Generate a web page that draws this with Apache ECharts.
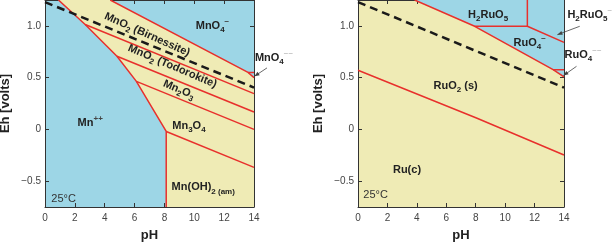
<!DOCTYPE html>
<html>
<head>
<meta charset="utf-8">
<script src="https://cdn.jsdelivr.net/npm/echarts@6/dist/echarts.min.js"></script>
<style>
  html, body { margin: 0; padding: 0; background: #fff; }
  #chart { width: 614px; height: 242px; }
</style>
</head>
<body>
<div id="chart"></div>
<script>
// axis ticks
const phTicks = [0, 2, 4, 6, 8, 10, 12, 14];
const ehTicks = [-0.5, 0, 0.5, 1.0];

// upper stability limit of water (dashed)
const waterLimit = [[0, 1.23], [14, 0.404]];

// Mn diagram: yellow = solid phases, the rest is dissolved (blue)
const mnSolidField = [[0.9, 1.25], [2.69, 1.013], [4.82, 0.706], [6.12, 0.464], [8.12, -0.02],
  [8.12, -0.75], [14, -0.75], [14, 0.50], [13.6, 0.55], [4.37, 1.25]];
const mnBoundaries = [
  [[0.9, 1.25], [2.69, 1.013], [4.82, 0.706], [6.12, 0.464], [8.12, -0.02], [8.12, -0.75]],
  [[4.37, 1.25], [13.6, 0.55], [14, 0.50]],
  [[13.6, 0.55], [14, 0.55]],
  [[2.69, 1.013], [14, 0.345]],
  [[4.82, 0.706], [14, 0.168]],
  [[6.12, 0.464], [14, 0.0]],
  [[8.12, -0.02], [14, -0.367]]
];

// Ru diagram: blue = dissolved species, the rest is solid (yellow)
const ruDissolvedField = [[3.85, 1.25], [7.93, 0.996], [13.26, 0.577], [14, 0.507], [14, 1.25]];
const ruBoundaries = [
  [[3.85, 1.25], [7.93, 0.996], [13.26, 0.577], [14, 0.507]],
  [[7.93, 0.996], [11.51, 0.996]],
  [[11.51, 1.25], [11.51, 0.996], [14, 0.84]],
  [[13.26, 0.577], [14, 0.577]],
  [[0, 0.571], [8.05, 0.11], [14, -0.248]]
];

// field names
const mnLabels = [
  { at: [11.22, 0.996], text: '{b|MnO}{s|4}{p|−}' },
  { at: [6.84, 0.916], text: '{b|MnO}{s|2}{b| (Birnessite)}', angle: -24 },
  { at: [8.53, 0.609], text: '{b|MnO}{s|2}{b| (Todorokite)}', angle: -23 },
  { at: [8.97, 0.384], text: '{b|Mn}{s|2}{b|O}{s|3}', angle: -23 },
  { at: [9.64, 0.03], text: '{b|Mn}{s|3}{b|O}{s|4}' },
  { at: [3.03, 0.065], text: '{b|Mn}{p|++}' },
  { at: [10.6, -0.56], text: '{b|Mn(OH)}{s|2}{sm| (am)}' },
  { at: [1.25, -0.67], text: '{t|25°C}' },
  { at: [15.34, 0.693], text: '{b|MnO}{s|4}{q|−−}' }
];
const ruLabels = [
  { at: [8.84, 1.109], text: '{b|H}{s|2}{b|RuO}{s|5}' },
  { at: [15.75, 1.109], text: '{b|H}{s|2}{b|RuO}{s|5}{q|−}' },
  { at: [11.67, 0.835], text: '{b|RuO}{s|4}{p|−}' },
  { at: [15.3, 0.722], text: '{b|RuO}{s|4}{q|−−}' },
  { at: [6.64, 0.42], text: '{b|RuO}{s|2}{b| (s)}' },
  { at: [3.33, -0.39], text: '{b|Ru(c)}' },
  { at: [1.2, -0.63], text: '{t|25°C}' }
];
const mnArrows = [[[14.87, 0.594], [14.03, 0.513]]];
const ruArrows = [[[15.07, 0.996], [13.55, 0.915]], [[14.85, 0.609], [13.96, 0.52]]];

const FONT = 'Liberation Sans, Arial, Helvetica, sans-serif';
const BLUE = '#9dd6e6';
const YELLOW = '#efebb5';
const RED = '#e8302c';

const rich = {
  b: { fontSize: 11, fontWeight: 'bold', fontFamily: FONT, lineHeight: 16, fill: '#222' },
  s: { fontSize: 8, fontWeight: 'bold', fontFamily: FONT, lineHeight: 8, verticalAlign: 'bottom', fill: '#222' },
  sm: { fontSize: 8, fontWeight: 'bold', fontFamily: FONT, lineHeight: 8, verticalAlign: 'bottom', fill: '#222' },
  p: { fontSize: 8, fontWeight: 'bold', fontFamily: FONT, lineHeight: 8, verticalAlign: 'top', fill: '#444' },
  q: { fontSize: 8, fontFamily: FONT, lineHeight: 8, verticalAlign: 'top', fill: '#aaa' },
  t: { fontSize: 11, fontFamily: FONT, lineHeight: 16, fill: '#333' }
};

function xAxes(gi) {
  const base = {
    type: 'value', gridIndex: gi, min: 0, max: 14, interval: 2,
    axisLine: { show: true, onZero: false, lineStyle: { color: '#333', width: 1 } },
    axisTick: { show: true, inside: true, length: 4, lineStyle: { color: '#333' } },
    splitLine: { show: false }
  };
  return [
    Object.assign({}, base, {
      position: 'bottom', name: 'pH', nameLocation: 'middle', nameGap: 22,
      nameTextStyle: { fontFamily: FONT, fontSize: 13, fontWeight: 'bold', color: '#222' },
      axisLabel: { fontFamily: FONT, fontSize: 10, color: '#444', margin: 6,
        customValues: phTicks, formatter: v => String(v) }
    }),
    Object.assign({}, base, { position: 'top', axisLabel: { show: false } })
  ];
}

function yAxes(gi) {
  const base = {
    type: 'value', gridIndex: gi, min: -0.75, max: 1.25,
    axisLine: { show: true, onZero: false, lineStyle: { color: '#333', width: 1 } },
    axisTick: { show: true, inside: true, length: 4, customValues: ehTicks, lineStyle: { color: '#333' } },
    splitLine: { show: false }
  };
  return [
    Object.assign({}, base, {
      position: 'left', name: 'Eh [volts]', nameLocation: 'middle', nameGap: 33,
      nameTextStyle: { fontFamily: FONT, fontSize: 13, fontWeight: 'bold', color: '#222' },
      axisLabel: { fontFamily: FONT, fontSize: 10, color: '#444', margin: 4, customValues: ehTicks,
        formatter: v => v === 0 ? '0' : v.toFixed(1).replace('-', '−') }
    }),
    Object.assign({}, base, { position: 'right', axisLabel: { show: false } })
  ];
}

function fieldSeries(ai, pts, color) {
  return {
    type: 'custom', xAxisIndex: ai, yAxisIndex: ai, silent: true, z: 1, animation: false,
    data: pts,
    renderItem(params, api) {
      if (params.dataIndex !== 0) return null;
      return {
        type: 'polygon',
        shape: { points: pts.map(p => api.coord(p)) },
        style: { fill: color }
      };
    }
  };
}

function lineSeries(ai, pts, style) {
  return {
    type: 'line', xAxisIndex: ai, yAxisIndex: ai, data: pts, showSymbol: false,
    silent: true, animation: false, z: 3, lineStyle: style
  };
}

function labelSeries(ai, labels, arrows) {
  return {
    type: 'custom', xAxisIndex: ai, yAxisIndex: ai, silent: true, z: 10, clip: false, animation: false,
    data: labels.map((l, i) => [l.at[0], l.at[1], i]),
    renderItem(params, api) {
      const l = labels[api.value(2)];
      const p = api.coord([api.value(0), api.value(1)]);
      const children = [{
        type: 'text', x: p[0], y: p[1], rotation: (l.angle || 0) * Math.PI / 180,
        style: { text: l.text, rich: rich, align: 'center', verticalAlign: 'middle' }
      }];
      if (params.dataIndex === 0) {
        arrows.forEach(a => {
          const s = api.coord(a[0]), e = api.coord(a[1]);
          const ang = Math.atan2(e[1] - s[1], e[0] - s[0]);
          const L = 5, W = 2;
          children.push({ type: 'line', shape: { x1: s[0], y1: s[1], x2: e[0], y2: e[1] },
            style: { stroke: '#444', lineWidth: 0.8 } });
          children.push({ type: 'polygon', shape: { points: [
            e,
            [e[0] - L * Math.cos(ang) + W * Math.sin(ang), e[1] - L * Math.sin(ang) - W * Math.cos(ang)],
            [e[0] - L * Math.cos(ang) - W * Math.sin(ang), e[1] - L * Math.sin(ang) + W * Math.cos(ang)]
          ] }, style: { fill: '#444' } });
        });
      }
      return { type: 'group', children };
    }
  };
}

const redStyle = { color: RED, width: 1.5 };
const dashStyle = { color: '#1a1a1a', width: 2.5, type: [8, 5] };

const series = [
  fieldSeries(0, mnSolidField, YELLOW),
  ...mnBoundaries.map(b => lineSeries(0, b, redStyle)),
  Object.assign(lineSeries(0, waterLimit, dashStyle), { z: 4 }),
  labelSeries(0, mnLabels, mnArrows),
  fieldSeries(2, ruDissolvedField, BLUE),
  ...ruBoundaries.map(b => lineSeries(2, b, redStyle)),
  Object.assign(lineSeries(2, waterLimit, dashStyle), { z: 4 }),
  labelSeries(2, ruLabels, ruArrows)
];

const chart = echarts.init(document.getElementById('chart'), null, { renderer: 'canvas' });
chart.setOption({
  animation: false,
  grid: [
    { left: 45, top: 0, width: 209, height: 207, show: true, backgroundColor: BLUE, borderWidth: 0,
      containLabel: false, outerBoundsMode: 'none' },
    { left: 358, top: 0, width: 206, height: 207, show: true, backgroundColor: YELLOW, borderWidth: 0,
      containLabel: false, outerBoundsMode: 'none' }
  ],
  xAxis: [...xAxes(0), ...xAxes(1)],
  yAxis: [...yAxes(0), ...yAxes(1)],
  series
});
</script>
</body>
</html>
